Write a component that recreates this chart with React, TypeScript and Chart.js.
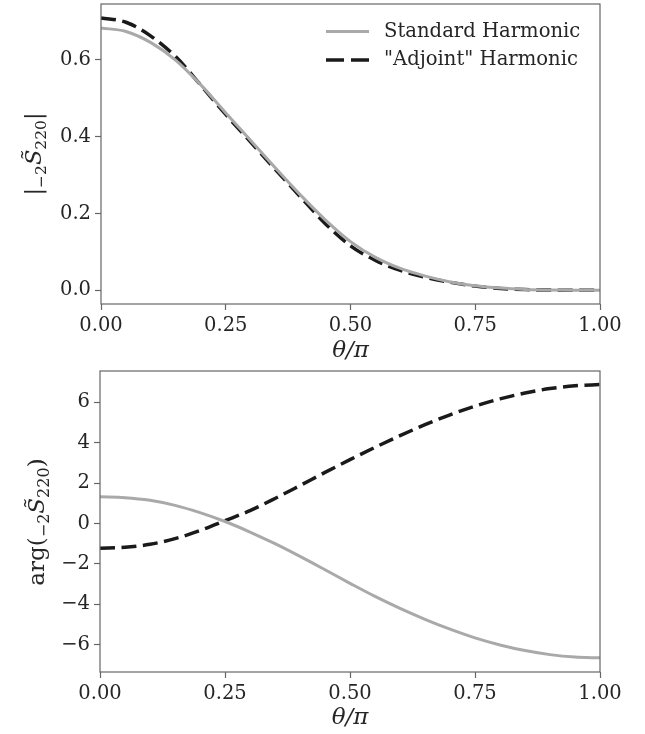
import React, { useEffect, useRef } from 'react';
import { Chart, registerables } from 'chart.js';

Chart.register(...registerables);

// ---- data ----
const theta = [0, 0.05, 0.1, 0.15, 0.2, 0.25, 0.3, 0.35, 0.4, 0.45, 0.5, 0.55, 0.6, 0.65, 0.7, 0.75, 0.8, 0.85, 0.9, 0.95, 1.0];
const standardAbs = [0.683, 0.674, 0.645, 0.599, 0.535, 0.462, 0.39, 0.318, 0.248, 0.183, 0.127, 0.086, 0.057, 0.037, 0.022, 0.012, 0.006, 0.0025, 0.0008, 0.0002, 0];
const adjointAbs = [0.709, 0.698, 0.662, 0.608, 0.534, 0.458, 0.386, 0.314, 0.243, 0.173, 0.116, 0.078, 0.052, 0.034, 0.021, 0.011, 0.005, 0.002, 0.0007, 0.0001, 0];
const standardArg = [1.32, 1.28, 1.15, 0.9, 0.54, 0.1, -0.42, -1.0, -1.63, -2.29, -2.96, -3.61, -4.2, -4.74, -5.23, -5.66, -6.01, -6.29, -6.49, -6.61, -6.65];
const adjointArg = [-1.22, -1.18, -1.03, -0.75, -0.35, 0.14, 0.64, 1.24, 1.88, 2.53, 3.16, 3.77, 4.35, 4.89, 5.38, 5.81, 6.17, 6.46, 6.68, 6.82, 6.88];

const xTicks = [0, 0.25, 0.5, 0.75, 1.0];
const absTicks = [0, 0.2, 0.4, 0.6];
const argTicks = [-6, -4, -2, 0, 2, 4, 6];

const seriesNames = ['Standard Harmonic', '"Adjoint" Harmonic'];

const FONT = "'DejaVu Serif', serif";
const GREY = '#a9a9a9';
const DARK = '#1a1a1a';
const FRAME = '#666666';
const TEXT = '#262626';

type Seg = { t: string; s: number; dy?: number; it?: boolean };

function drawRich(ctx: CanvasRenderingContext2D, segs: Seg[], cx: number, cy: number) {
  ctx.save();
  ctx.translate(cx, cy);
  ctx.rotate(-Math.PI / 2);
  ctx.fillStyle = TEXT;
  ctx.textBaseline = 'alphabetic';
  ctx.textAlign = 'left';
  const fontOf = (g: Seg) => `${g.it ? 'italic ' : ''}${g.s}px ${FONT}`;
  let total = 0;
  const widths = segs.map((g) => {
    ctx.font = fontOf(g);
    const w = ctx.measureText(g.t).width;
    total += w;
    return w;
  });
  let x = -total / 2;
  segs.forEach((g, i) => {
    ctx.font = fontOf(g);
    ctx.fillText(g.t, x, 8 + (g.dy || 0));
    x += widths[i];
  });
  ctx.restore();
}

const framePlugin = {
  id: 'frame',
  afterDraw(chart: any, _args: any, opts: any) {
    const { ctx, chartArea: a } = chart;
    ctx.save();
    ctx.strokeStyle = FRAME;
    ctx.lineWidth = 1.2;
    ctx.strokeRect(a.left, a.top, a.right - a.left, a.bottom - a.top);
    ctx.restore();
    if (opts.ytitle) drawRich(ctx, opts.ytitle.segs, opts.ytitle.x, opts.ytitle.y);
    if (opts.legend) {
      const rows = [
        { name: seriesNames[0], color: GREY, dash: [] as number[], w: 3, y: 31.5 },
        { name: seriesNames[1], color: DARK, dash: [18, 7], w: 3.5, y: 60 },
      ];
      ctx.save();
      rows.forEach((r) => {
        ctx.beginPath();
        ctx.setLineDash(r.dash);
        ctx.strokeStyle = r.color;
        ctx.lineWidth = r.w;
        ctx.lineCap = 'butt';
        ctx.moveTo(326, r.y);
        ctx.lineTo(369, r.y);
        ctx.stroke();
        ctx.setLineDash([]);
        ctx.fillStyle = TEXT;
        ctx.font = `19.6px ${FONT}`;
        ctx.textBaseline = 'middle';
        ctx.textAlign = 'left';
        ctx.fillText(r.name, 384, r.y);
      });
      ctx.restore();
    }
  },
};

function fmtMinus(v: number) {
  return v < 0 ? '\u2212' + Math.abs(v) : String(v);
}

function makeConfig(kind: 'abs' | 'arg'): any {
  const std = kind === 'abs' ? standardAbs : standardArg;
  const adj = kind === 'abs' ? adjointAbs : adjointArg;
  const yTicks = kind === 'abs' ? absTicks : argTicks;
  const xHeight = kind === 'abs' ? 63 : 62;
  const yWidth = kind === 'abs' ? 101 : 100;
  const tickFont = { family: FONT, size: 19.5 };
  const yTitle =
    kind === 'abs'
      ? {
          x: 33,
          y: 154,
          segs: [
            { t: '|', s: 22.5 },
            { t: '\u22122', s: 15.5, dy: 5 },
            { t: 'S\u0303', s: 22.5, it: true },
            { t: '220', s: 15.5, dy: 5 },
            { t: '|', s: 22.5 },
          ],
        }
      : {
          x: 36,
          y: 155,
          segs: [
            { t: 'arg', s: 23 },
            { t: '(', s: 23 },
            { t: '\u22122', s: 16, dy: 5 },
            { t: 'S\u0303', s: 23, it: true },
            { t: '220', s: 16, dy: 5 },
            { t: ')', s: 23 },
          ],
        };
  return {
    type: 'line',
    data: {
      datasets: [
        {
          label: seriesNames[0],
          data: theta.map((t, i) => ({ x: t, y: std[i] })),
          borderColor: GREY,
          borderWidth: 3,
          pointRadius: 0,
          cubicInterpolationMode: 'monotone',
          fill: false,
        },
        {
          label: seriesNames[1],
          data: theta.map((t, i) => ({ x: t, y: adj[i] })),
          borderColor: DARK,
          borderWidth: 3.5,
          borderDash: [15, 6.5],
          pointRadius: 0,
          cubicInterpolationMode: 'monotone',
          fill: false,
        },
      ],
    },
    options: {
      animation: false,
      responsive: false,
      devicePixelRatio: 1,
      layout: { padding: { top: 4, right: 45, left: 0, bottom: 0 } },
      plugins: {
        legend: { display: false },
        tooltip: { enabled: false },
        frame: { ytitle: yTitle, legend: kind === 'abs' },
      },
      scales: {
        x: {
          type: 'linear',
          min: 0,
          max: 1,
          afterBuildTicks: (s: any) => {
            s.ticks = xTicks.map((v) => ({ value: v }));
          },
          afterFit: (s: any) => {
            s.height = xHeight;
            s.paddingLeft = 0;
            s.paddingRight = 0;
          },
          ticks: {
            callback: (v: any) => Number(v).toFixed(2),
            font: tickFont,
            color: TEXT,
            padding: 4,
            maxRotation: 0,
            autoSkip: false,
          },
          grid: { drawOnChartArea: false, tickLength: 6, tickColor: FRAME, tickWidth: 1.2 },
          border: { display: false },
          title: {
            display: true,
            text: '\u03B8/\u03C0',
            font: { family: FONT, size: 23, style: 'italic' },
            color: TEXT,
            padding: { top: 0, bottom: 2 },
          },
        },
        y: {
          type: 'linear',
          min: kind === 'abs' ? -0.0355 : -7.35,
          max: kind === 'abs' ? 0.7455 : 7.55,
          afterBuildTicks: (s: any) => {
            s.ticks = yTicks.map((v) => ({ value: v }));
          },
          afterFit: (s: any) => {
            s.width = yWidth;
            s.paddingTop = 0;
            s.paddingBottom = 0;
          },
          ticks: {
            callback: (v: any) => (kind === 'abs' ? Number(v).toFixed(1) : fmtMinus(Number(v))),
            font: tickFont,
            color: TEXT,
            padding: 4,
            autoSkip: false,
          },
          grid: { drawOnChartArea: false, tickLength: 6, tickColor: FRAME, tickWidth: 1.2 },
          border: { display: false },
        },
      },
    },
    plugins: [framePlugin],
  };
}

function Panel({ kind }: { kind: 'abs' | 'arg' }) {
  const ref = useRef<HTMLCanvasElement | null>(null);
  useEffect(() => {
    if (!ref.current) return;
    const chart = new Chart(ref.current, makeConfig(kind));
    return () => chart.destroy();
  }, [kind]);
  return <canvas ref={ref} width={645} height={367} style={{ display: 'block', width: 645, height: 367 }} />;
}

export default function App() {
  return (
    <div style={{ position: 'absolute', left: 0, top: 0, width: 645, height: 734, background: '#fff' }}>
      <Panel kind="abs" />
      <Panel kind="arg" />
    </div>
  );
}
